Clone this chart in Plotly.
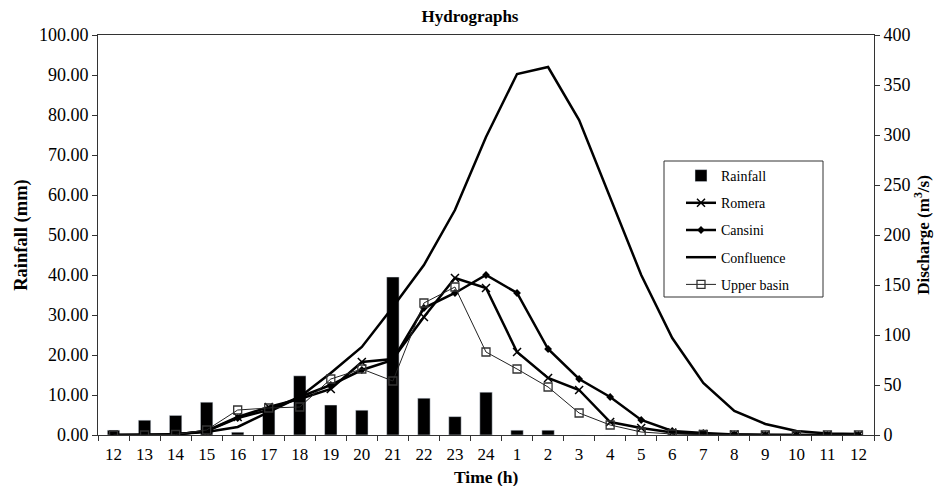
import plotly.graph_objects as go

hours = ["12", "13", "14", "15", "16", "17", "18", "19", "20", "21", "22", "23", "24",
         "1", "2", "3", "4", "5", "6", "7", "8", "9", "10", "11", "12"]
rainfall = [1.2, 3.7, 4.9, 8.2, 0.7, 6.8, 14.8, 7.5, 6.2, 39.5, 9.2, 4.6, 10.7,
            1.2, 1.2, 0, 0, 0, 0, 0, 0, 0, 0, 0, 0]
romera = [0, 0, 0.5, 4, 18, 28, 36, 46, 73, 76, 118, 157, 147,
          83, 57, 45, 13, 7, 2.5, 1, 0.5, 0, 0, 0, 0]
cansini = [0, 0, 0.5, 4, 17, 25, 38, 50, 65, 75, 127, 142, 160,
           142, 86, 56, 38, 15, 4, 2, 0.5, 0, 0, 0, 0]
confluence = [0, 0, 1, 3, 8, 23, 38, 62, 88, 128, 170, 225, 298,
              361, 368, 315, 238, 160, 97, 52, 24, 11, 4, 1.5, 1]
upper_basin = [0, 0, 0.5, 5, 25, 27, 28, 56, 66, 54, 132, 148, 83,
               66, 48, 22, 10, 3, 1, 0.5, 0, 0, 0, 0, 0]

idx = list(range(len(hours)))
FONT = "Liberation Serif, Times New Roman, serif"
AX = "#333333"

fig = go.Figure()
fig.add_trace(go.Bar(x=idx, y=rainfall, name="Rainfall", marker_color="black",
                     width=0.4, yaxis="y", legendgroup="a"))
fig.add_trace(go.Scatter(x=idx, y=romera, name="Romera", yaxis="y2", mode="lines+markers",
                         legendgroup="b",
                         line=dict(color="black", width=2.5),
                         marker=dict(symbol="x-thin-open", size=8, line=dict(color="black", width=1.5))))
fig.add_trace(go.Scatter(x=idx, y=cansini, name="Cansini", yaxis="y2", mode="lines+markers",
                         legendgroup="c",
                         line=dict(color="black", width=2.5),
                         marker=dict(symbol="diamond", size=6, color="black")))
fig.add_trace(go.Scatter(x=idx, y=confluence, name="Confluence", yaxis="y2", mode="lines",
                         legendgroup="d",
                         line=dict(color="black", width=2.5)))
fig.add_trace(go.Scatter(x=idx, y=upper_basin, name="Upper basin", yaxis="y2", mode="lines+markers",
                         legendgroup="e",
                         line=dict(color="#222222", width=1),
                         marker=dict(symbol="square-open", size=8, color="#333333",
                                     line=dict(width=1.3))))

# legend frame (plotly legend has no inner padding control)
fig.add_shape(type="rect", xref="paper", yref="paper",
              x0=(664 - 98) / 776, x1=(823 - 98) / 776,
              y0=(435 - 297) / 400, y1=(435 - 161) / 400,
              line=dict(color=AX, width=1), fillcolor="rgba(0,0,0,0)", layer="below")

# x-axis title placed explicitly
fig.add_annotation(text="<b>Time (h)</b>", xref="paper", yref="paper",
                   x=0.5, y=(435 - 477) / 400, xanchor="center", yanchor="middle",
                   showarrow=False, font=dict(size=17.5, family=FONT))

fig.update_layout(
    width=940, height=486,
    margin=dict(l=98, r=66, t=35, b=51),
    paper_bgcolor="white", plot_bgcolor="white",
    font=dict(family=FONT, size=17, color="black"),
    title=dict(text="<b>Hydrographs</b>", x=0.5, xanchor="center", y=1 - 16 / 486, yanchor="middle",
               font=dict(size=17, family=FONT)),
    showlegend=True,
    legend=dict(x=(681 - 98) / 776, y=0.6875, xanchor="left", yanchor="top",
                borderwidth=0, bgcolor="rgba(0,0,0,0)", traceorder="grouped",
                font=dict(size=14, family=FONT), tracegroupgap=6, itemwidth=30),
    xaxis=dict(range=[-0.5, 24.5], tickvals=idx, ticktext=hours, ticks="",
               showline=True, linecolor=AX, linewidth=1, mirror=True,
               showgrid=False, zeroline=False, automargin=False,
               ticklabelstandoff=4,
               minor=dict(tickvals=[i - 0.5 for i in range(26)], ticks="outside",
                          ticklen=5, tickcolor=AX, showgrid=False)),
    yaxis=dict(range=[0, 100], dtick=10, tickformat=".2f", ticks="outside", ticklen=5,
               tickcolor=AX, showline=True, linecolor=AX, linewidth=1,
               showgrid=False, zeroline=False, automargin=False,
               tickfont=dict(size=18),
               title=dict(text="<b>Rainfall (mm)</b>", font=dict(size=18.5), standoff=6)),
    yaxis2=dict(range=[0, 400], dtick=50, overlaying="y", side="right", ticks="outside",
                ticklen=5, tickcolor=AX, showline=True, linecolor=AX, linewidth=1,
                showgrid=False, zeroline=False, automargin=False,
                tickfont=dict(size=18),
                title=dict(text="<b>Discharge (m<sup>3</sup>/s)</b>", font=dict(size=17), standoff=3)),
    bargap=0.6,
)

fig.write_html("out.html")
